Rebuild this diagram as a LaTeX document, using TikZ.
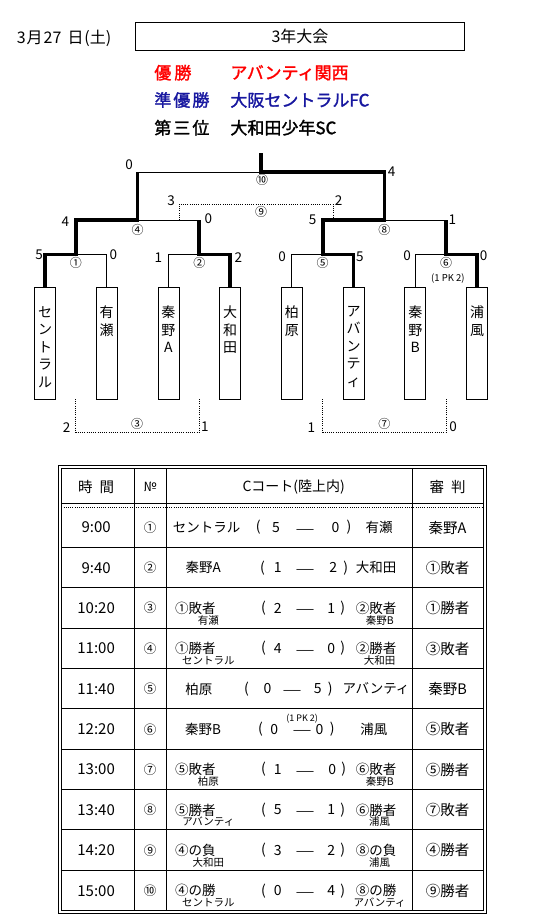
\documentclass[tikz,border=0pt]{standalone}
\usepackage{fontspec}
\setmainfont{Noto Sans CJK JP}
\newfontfamily\cjkb[FakeBold=1.6]{Noto Sans CJK JP}
\definecolor{winred}{RGB}{255,0,0}
\definecolor{runblue}{RGB}{24,24,160}
\tikzset{
  lose/.style={line width=0.8pt},
  win/.style={line width=3.6pt, line join=miter},
  dots/.style={line width=0.7pt, dash pattern=on 0.9pt off 1.3pt},
  sc/.style={inner sep=0pt, font=\fontsize{13.5}{13.5}\selectfont},
  circ/.style={inner sep=0pt, font=\fontsize{12}{12}\selectfont},
  teambox/.style={draw, line width=0.8pt, minimum width=21pt, minimum height=111.7pt, inner sep=0pt},
  vtext/.style={inner sep=0pt, anchor=north, align=center, font=\fontsize{14}{17.5}\selectfont},
  res/.style={anchor=west, inner sep=0pt, font=\cjkb\fontsize{17}{17}\selectfont},
  tmain/.style={inner sep=0pt, font=\fontsize{15}{15}\selectfont},
  tno/.style={inner sep=0pt, font=\fontsize{12.5}{13}\selectfont},
  tref/.style={inner sep=0pt, font=\fontsize{14.5}{15}\selectfont},
  tsc/.style={inner sep=0pt, font=\fontsize{14}{14}\selectfont},
  tdash/.style={inner sep=0pt, yshift=-5.5pt, font=\fontsize{20}{20}\selectfont},
  tname/.style={inner sep=0pt, font=\fontsize{13.5}{14}\selectfont},
  tsub/.style={inner sep=0pt, font=\fontsize{10.5}{11}\selectfont},
  thead/.style={inner sep=0pt, font=\fontsize{14.5}{15}\selectfont},
}
\newcommand\trow[4]{%
  \pgfmathsetmacro\ry{527.5+40.35*#1}%
  \node[tmain] (tm#1) at (92.3,\ry) {#2};
  \node[tno] (no#1) at (144.2,\ry) {#3};
  \node[tref] (rf#1) at (429.7,\ry) {#4};
}
\newcommand\tscore[8]{%
  \pgfmathsetmacro\ry{527.5+40.35*#1}%
  \node[tsc] (pa#1) at (#2,\ry) {(};
  \node[tsc] (sa#1) at (#3,\ry) {#7};
  \node[tdash] (da#1) at (#4,\ry) {―};
  \node[tsc] (sb#1) at (#5,\ry) {#8};
  \node[tsc] (pb#1) at (#6,\ry) {)};
}
\newcommand\tnames[5]{%
  \pgfmathsetmacro\ry{527.5+40.35*#1}%
  \node[tname] (la#1) at (#2,\ry) {#3};
  \node[tname] (ra#1) at (#4,\ry) {#5};
}
\newcommand\tsubs[3]{%
  \pgfmathsetmacro\ry{539.5+40.35*#1}%
  \node[tsub] (lb#1) at (200,\ry) {#2};
  \node[tsub] (rb#1) at (364.5,\ry) {#3};
}
\begin{document}
\begin{tikzpicture}[x=1.0417pt,y=-1pt]
\useasboundingbox[fill=white] (0,0) rectangle (520.3,922);

% ---------- header ----------
\node[anchor=west, inner sep=0pt, font=\fontsize{16}{16}\selectfont] (date) at (16,38) {3\kern1pt 月\kern1pt 27\kern6pt 日\kern1pt (土)};
\node[draw, line width=0.8pt, minimum width=329pt, minimum height=28pt, inner sep=0pt, font=\fontsize{16}{16}\selectfont] (title) at (288,36) {3年大会};

\node[res, text=winred] (lab1) at (148,72.7) {優\kern3pt 勝};
\node[res, text=winred] (nam1) at (221,72.7) {アバンティ関西};
\node[res, text=runblue] (lab2) at (148,100) {準\kern2pt 優\kern2pt 勝};
\node[res, text=runblue] (nam2) at (221,100) {大阪セントラルFC};
\node[res] (lab3) at (148,127.7) {第\kern2pt 三\kern2pt 位};
\node[res] (nam3) at (221,127.7) {大和田少年SC};

% ---------- team boxes ----------
\node[teambox] (t1) at (43.2,343.15) {};
\node[teambox] (t2) at (102.45,343.15) {};
\node[teambox] (t3) at (161.7,343.15) {};
\node[teambox] (t4) at (220.95,343.15) {};
\node[teambox] (t5) at (280.2,343.15) {};
\node[teambox] (t6) at (339.45,343.15) {};
\node[teambox] (t7) at (398.7,343.15) {};
\node[teambox] (t8) at (457.95,343.15) {};
\node[vtext] (n1) at (43.2,306) {セ\\ン\\ト\\ラ\\ル};
\node[vtext] (n2) at (102.45,306) {有\\瀬};
\node[vtext] (n3) at (161.7,306) {秦\\野\\A};
\node[vtext] (n4) at (220.95,306) {大\\和\\田};
\node[vtext] (n5) at (280.2,306) {柏\\原};
\node[vtext] (n6) at (339.45,306) {ア\\バ\\ン\\テ\\ィ};
\node[vtext] (n7) at (398.7,306) {秦\\野\\B};
\node[vtext] (n8) at (457.95,306) {浦\\風};

% ---------- bracket points ----------
\coordinate (m1) at (72.8,254.3);
\coordinate (m2) at (191.3,254.3);
\coordinate (m5) at (309.8,254.3);
\coordinate (m6) at (428.3,254.3);
\coordinate (q1) at (72.8,220);
\coordinate (q2) at (191.3,220);
\coordinate (q5) at (309.8,220);
\coordinate (q6) at (428.3,220);
\coordinate (m4) at (132.1,220);
\coordinate (m8) at (369.1,220);
\coordinate (f4) at (132.1,172);
\coordinate (f8) at (369.1,172);
\coordinate (m10) at (250.6,172);
\coordinate (top) at (250.6,153);

\draw[lose] (t2.north) |- (m1);
\draw[lose] (t3.north) |- (m2);
\draw[lose] (t5.north) |- (m5);
\draw[lose] (t7.north) |- (m6);
\draw[lose] (q2) -- (m4);
\draw[lose] (q6) -- (m8);
\draw[lose] (f4) -- (m10);

\draw[win] (t1.north) |- (m1) -- (q1) -- (m4) -- (f4);
\draw[win] (t4.north) |- (m2) -- (q2);
\draw[win] (t6.north) |- (m5) -- (q5) -- (m8) -- (f8) -- (m10) -- (top);
\draw[win] (t8.north) |- (m6) -- (q6);

% dotted matches
\coordinate (d9a) at (171.7,220);
\coordinate (d9b) at (171.7,204.3);
\coordinate (d9c) at (320,204.3);
\coordinate (d9d) at (320,220);
\draw[dots] (d9a) -- (d9b) -- (d9c) -- (d9d);
\coordinate (d3a) at (72.8,399);
\coordinate (d3b) at (72.8,432.3);
\coordinate (d3c) at (191.3,432.3);
\coordinate (d3d) at (191.3,399);
\draw[dots] (d3a) -- (d3b) -- (d3c) -- (d3d);
\coordinate (d7a) at (309.8,399);
\coordinate (d7b) at (309.8,432.3);
\coordinate (d7c) at (428.3,432.3);
\coordinate (d7d) at (428.3,399);
\draw[dots] (d7a) -- (d7b) -- (d7c) -- (d7d);

% scores
\node[sc] (sf1) at (124,165) {0};
\node[sc] (sf2) at (376,171.7) {4};
\node[sc] (ss1) at (62.7,221.7) {4};
\node[sc] (ss2) at (200,219) {0};
\node[sc] (ss3) at (300,220) {5};
\node[sc] (ss4) at (434.3,220) {1};
\node[sc] (s9a) at (164.3,200.7) {3};
\node[sc] (s9b) at (325,200.7) {2};
\node[sc] (r1a) at (37.5,255) {5};
\node[sc] (r1b) at (108.8,255) {0};
\node[sc] (r2a) at (152,258) {1};
\node[sc] (r2b) at (228.8,258) {2};
\node[sc] (r5a) at (270.8,257) {0};
\node[sc] (r5b) at (345.5,257) {5};
\node[sc] (r6a) at (390.8,256) {0};
\node[sc] (r6b) at (464.2,256) {0};
\node[sc] (s3a) at (64,428) {2};
\node[sc] (s3b) at (196.7,426.7) {1};
\node[sc] (s7a) at (299,428) {1};
\node[sc] (s7b) at (435,427) {0};

% match numbers
\node[circ] (c1) at (72.8,263) {①};
\node[circ] (c2) at (191.3,263) {②};
\node[circ] (c5) at (309.8,263) {⑤};
\node[circ] (c6) at (428.3,263) {⑥};
\node[inner sep=0pt, font=\fontsize{9.5}{10}\selectfont] (pk6) at (430,278.5) {(1 PK 2)};
\node[circ] (c4) at (132.1,229.5) {④};
\node[circ] (c8) at (369.1,229.5) {⑧};
\node[circ] (c10) at (251.7,179.5) {⑩};
\node[circ] (c9) at (250.7,211.7) {⑨};
\node[circ] (c3) at (131.7,424) {③};
\node[circ] (c7) at (369,424) {⑦};

% ---------- table ----------
\draw[line width=0.8pt] (56,465) rectangle (467,913.5);
\draw[line width=0.8pt] (59,468) rectangle (464,910.5);
\draw[line width=0.8pt] (59,503.5) -- (464,503.5);
\draw[dots] (59,507) -- (464,507);
\foreach \i in {1,...,9} {
  \draw[line width=0.8pt] (59,507+40.35*\i) -- (464,507+40.35*\i);
}
\draw[line width=0.8pt] (128.7,468) -- (128.7,910.5);
\draw[line width=0.8pt] (159.7,468) -- (159.7,910.5);
\draw[line width=0.8pt] (395.5,468) -- (395.5,910.5);

\node[thead] (h1) at (92.3,487) {時\kern7pt 間};
\node[inner sep=0pt, font=\fontsize{13}{13}\selectfont] (h2) at (144.2,487) {№};
\node[thead, font=\fontsize{14}{14}\selectfont] (h3) at (282,487) {Cコート(陸上内)};
\node[thead] (h4) at (429.7,487) {審\kern7pt 判};

\trow{0}{9:00}{①}{秦野A}
\trow{1}{9:40}{②}{①敗者}
\trow{2}{10:20}{③}{①勝者}
\trow{3}{11:00}{④}{③敗者}
\trow{4}{11:40}{⑤}{秦野B}
\trow{5}{12:20}{⑥}{⑤敗者}
\trow{6}{13:00}{⑦}{⑤勝者}
\trow{7}{13:40}{⑧}{⑦敗者}
\trow{8}{14:20}{⑨}{④勝者}
\trow{9}{15:00}{⑩}{⑨勝者}

\tscore{0}{248}{265}{293.3}{322}{335}{5}{0}
\tscore{1}{252}{266.7}{293}{320}{332}{1}{2}
\tscore{2}{253}{266.7}{293}{318}{329}{2}{1}
\tscore{3}{253}{266.7}{293}{318}{329}{4}{0}
\tscore{4}{236.7}{256.7}{281}{305}{317}{0}{5}
\tscore{5}{250}{263.3}{290}{306.7}{319}{0}{0}
\tscore{6}{253}{266.7}{293}{319}{330}{1}{0}
\tscore{7}{253}{266.7}{293}{318}{329}{5}{1}
\tscore{8}{253}{266.7}{293}{318}{329}{3}{2}
\tscore{9}{253}{266.7}{293}{318}{329}{0}{4}
\node[inner sep=0pt, font=\fontsize{9}{9}\selectfont] (pkt) at (290,719) {(1 PK 2)};

\tnames{0}{198.3}{セントラル}{364}{有瀬}
\tnames{1}{195}{秦野A}{361}{大和田}
\tnames{2}{187.5}{①敗者}{361}{②敗者}
\tnames{3}{187.5}{①勝者}{361}{②勝者}
\tnames{4}{190.8}{柏原}{361}{アバンティ}
\tnames{5}{195}{秦野B}{359}{浦風}
\tnames{6}{187.5}{⑤敗者}{361}{⑥敗者}
\tnames{7}{187.5}{⑤勝者}{361}{⑥勝者}
\tnames{8}{187.5}{④の負}{361}{⑧の負}
\tnames{9}{187.5}{④の勝}{361}{⑧の勝}

\tsubs{2}{有瀬}{秦野B}
\tsubs{3}{セントラル}{大和田}
\tsubs{6}{柏原}{秦野B}
\tsubs{7}{アバンティ}{浦風}
\tsubs{8}{大和田}{浦風}
\tsubs{9}{セントラル}{アバンティ}
\end{tikzpicture}
\end{document}
